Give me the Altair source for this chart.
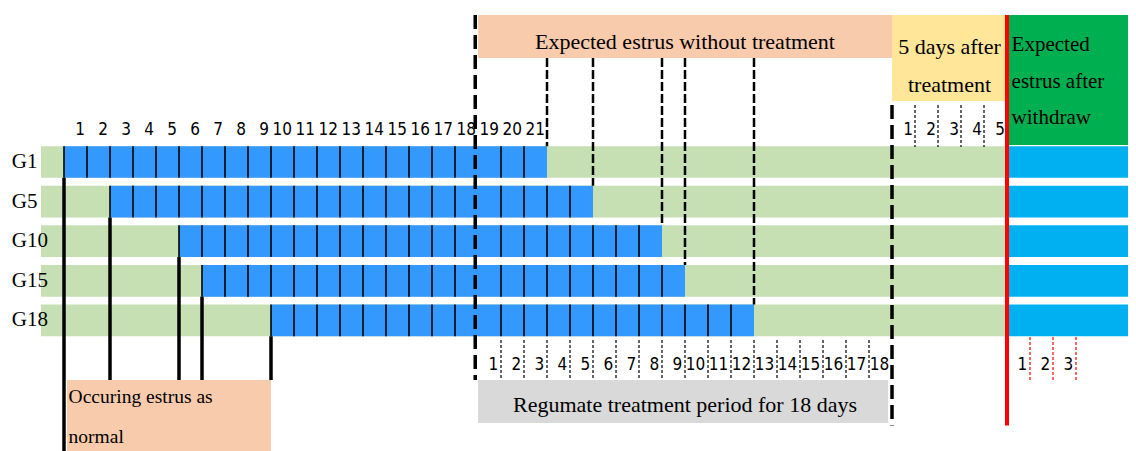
import altair as alt
import pandas as pd

# ---------------- data ----------------
groups = ["G1", "G5", "G10", "G15", "G18"]
estrus_start_day = [0, 2, 5, 6, 9]      # day each group's cycle starts
cycle_days = 21
treat_start = 18
treat_days = 18
after_days = 5
window_start = -1
withdraw_label_days = [1, 2, 3]
top_day_labels = list(range(1, 22))
treat_day_labels = list(range(1, 19))
after_day_labels = list(range(1, 6))

title_top = "Expected estrus without treatment"
title_after = ["5 days after", "treatment"]
title_withdraw = ["Expected", "estrus after", "withdraw"]
title_normal = ["Occuring estrus as", "normal"]
title_treat = "Regumate treatment period for 18 days"

treat_end = treat_start + treat_days
after_end = treat_end + after_days

# ---------------- layout (scale units) ----------------
W = 1120
H = 443
PX = 23.0
X0 = -56 / PX
X1 = X0 + W / PX
PY = 39.6
Y0 = -114.4 / PY
Y1 = Y0 + H / PY
HALF = 0.4
TOP = -2.712
SERIF = "Liberation Serif"
NARROW = "'Liberation Sans Narrow', 'DejaVu Sans Condensed', 'Liberation Sans', sans-serif"

xs = alt.Scale(domain=[X0, X1], nice=False, zero=False)
ys = alt.Scale(domain=[Y0, Y1], nice=False, zero=False, reverse=True)


def X(f="x"):
    return alt.X(f + ":Q", scale=xs, axis=None)


def Y(f="y"):
    return alt.Y(f + ":Q", scale=ys, axis=None)


rows = list(range(1, len(groups) + 1))

# backgrounds per row
bg = pd.DataFrame({
    "x": [window_start] * len(groups), "x2": [after_end] * len(groups),
    "y": [r - HALF for r in rows], "y2": [r + HALF for r in rows]})
cy = pd.DataFrame({
    "x": [after_end] * len(groups), "x2": [X1] * len(groups),
    "y": [r - HALF for r in rows], "y2": [r + HALF for r in rows]})
blue = pd.DataFrame({
    "x": estrus_start_day, "x2": [s + cycle_days for s in estrus_start_day],
    "y": [r - HALF for r in rows], "y2": [r + HALF for r in rows]})

layers = []


def rect(df, color, opacity=1):
    return alt.Chart(df).mark_rect(color=color, opacity=opacity).encode(
        x=X(), x2="x2:Q", y=Y(), y2="y2:Q")


layers.append(rect(bg, "#C6E0B4"))
layers.append(rect(cy, "#00B0F0"))
layers.append(rect(blue, "#3399FF"))

# header boxes
boxes = pd.DataFrame({
    "x": [treat_start, treat_end, after_end, treat_start, 0.13],
    "x2": [treat_end, after_end, X1, treat_end - 0.17, 9.0],
    "y": [TOP, TOP, TOP, 6.505, 6.505],
    "y2": [-1.626, -0.540, 0.571, 7.591, Y1],
    "c": ["#F8CBAD", "#FFE699", "#00B050", "#D9D9D9", "#F8CBAD"]})
layers.append(alt.Chart(boxes).mark_rect().encode(
    x=X(), x2="x2:Q", y=Y(), y2="y2:Q", color=alt.Color("c:N", scale=None)))

# day divider lines inside blue bars
div = pd.DataFrame([
    {"x": d, "y": r - HALF, "y2": r + HALF}
    for r, s in zip(rows, estrus_start_day) for d in range(s, s + cycle_days)
    if d != treat_start])
layers.append(alt.Chart(div).mark_rule(color="black", strokeWidth=1.6).encode(
    x=X(), y=Y(), y2="y2:Q"))

# thick solid lines marking normal estrus
thick = pd.DataFrame({
    "x": estrus_start_day,
    "y": [r + HALF for r in rows],
    "y2": [Y1] + [6.505] * (len(rows) - 1)})
layers.append(alt.Chart(thick).mark_rule(color="black", strokeWidth=3.5).encode(
    x=X(), y=Y(), y2="y2:Q"))

# expected estrus dashed lines
exp = pd.DataFrame({
    "x": [s + cycle_days for s in estrus_start_day],
    "y": [-1.626] * len(rows),
    "y2": [r - HALF for r in rows]})
layers.append(alt.Chart(exp).mark_rule(color="black", strokeWidth=2.5, strokeDash=[9, 3]).encode(
    x=X(), y=Y(), y2="y2:Q"))

# treatment boundaries
tb = pd.DataFrame({"x": [treat_start - 0.12, treat_end], "y": [TOP, -0.439], "y2": [6.505, 7.652]})
layers.append(alt.Chart(tb).mark_rule(color="black", strokeWidth=3.5, strokeDash=[14, 6]).encode(
    x=X(), y=Y(), y2="y2:Q"))

# small dotted separators (treatment days, after days)
dots = pd.DataFrame(
    [{"x": treat_start + k, "y": 5.495, "y2": 6.505} for k in range(1, treat_days)] +
    [{"x": treat_end + k, "y": -0.439, "y2": 0.621} for k in range(1, after_days)])
layers.append(alt.Chart(dots).mark_rule(color="black", strokeWidth=1.2, strokeDash=[3, 2]).encode(
    x=X(), y=Y(), y2="y2:Q"))

reddots = pd.DataFrame({"x": [after_end + k for k in withdraw_label_days], "y": [5.42] * 3, "y2": [6.505] * 3})
layers.append(alt.Chart(reddots).mark_rule(color="#FF0000", strokeWidth=1.2, strokeDash=[3, 2]).encode(
    x=X(), y=Y(), y2="y2:Q"))

# red withdraw line
red = pd.DataFrame({"x": [after_end], "y": [TOP], "y2": [7.652]})
layers.append(alt.Chart(red).mark_rule(color="#FF0000", strokeWidth=4).encode(
    x=X(), y=Y(), y2="y2:Q"))

# number labels
nums = pd.DataFrame(
    [{"x": d - 0.09, "y": 0.192, "t": str(d)} for d in top_day_labels] +
    [{"x": treat_start + d - 0.12, "y": 6.126, "t": str(d)} for d in treat_day_labels] +
    [{"x": treat_end + d - 0.09, "y": 0.192, "t": str(d)} for d in after_day_labels] +
    [{"x": after_end + d - 0.12, "y": 6.126, "t": str(d)} for d in withdraw_label_days])
layers.append(alt.Chart(nums).mark_text(
    align="right", baseline="middle", font=NARROW, fontSize=17, color="black").encode(
    x=X(), y=Y(), text="t:N"))

# group labels
gl = pd.DataFrame({"x": [-2.27] * len(groups), "y": rows, "t": groups})
layers.append(alt.Chart(gl).mark_text(
    align="left", baseline="middle", font=SERIF, fontSize=21, color="black").encode(
    x=X(), y=Y(), text="t:N"))

# centered serif titles
ct = pd.DataFrame({
    "x": [(treat_start + treat_end) / 2, (treat_end + after_end) / 2, (treat_end + after_end) / 2,
          (treat_start + treat_end) / 2],
    "y": [-2.03, -1.904, -0.944, 7.136],
    "t": [title_top, title_after[0], title_after[1], title_treat]})
layers.append(alt.Chart(ct).mark_text(
    align="center", baseline="middle", font=SERIF, fontSize=22, color="black").encode(
    x=X(), y=Y(), text="t:N"))

lt = pd.DataFrame({
    "x": [after_end + 0.2] * 3,
    "y": [-1.955, -1.02, -0.111],
    "t": title_withdraw})
layers.append(alt.Chart(lt).mark_text(
    align="left", baseline="middle", font=SERIF, fontSize=21, color="black").encode(
    x=X(), y=Y(), text="t:N"))

nt = pd.DataFrame({"x": [0.2] * 2, "y": [6.934, 7.944], "t": title_normal})
layers.append(alt.Chart(nt).mark_text(
    align="left", baseline="middle", font=SERIF, fontSize=19.5, color="black").encode(
    x=X(), y=Y(), text="t:N"))

chart = alt.layer(*layers).properties(
    width=W, height=H, padding=0,
    autosize=alt.AutoSizeParams(type="none"),
).configure_view(stroke=None)

chart.save("out.html", embed_options={"renderer": "svg", "actions": False})
